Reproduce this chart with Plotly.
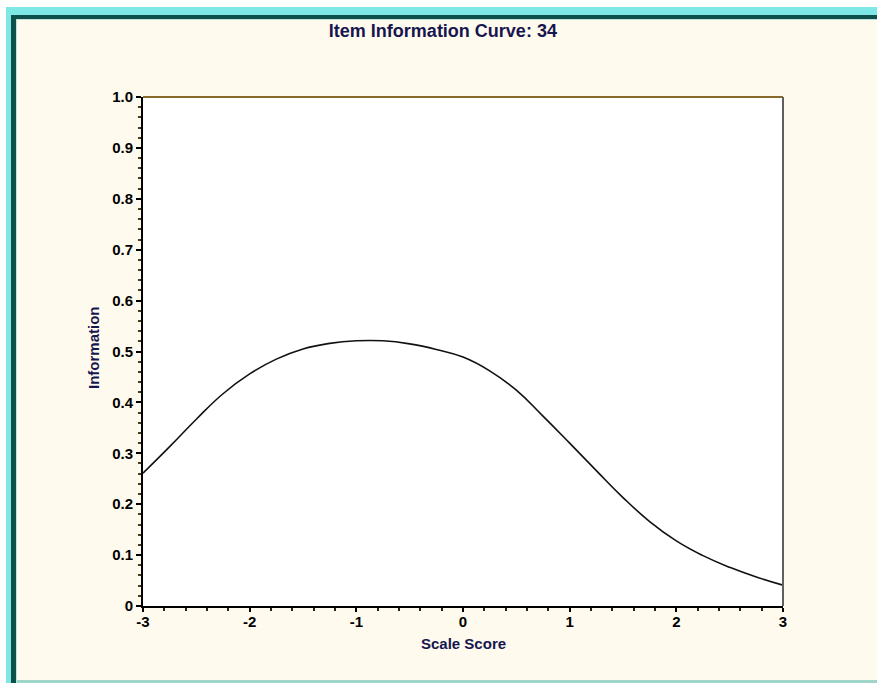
import plotly.graph_objects as go

# Data
scale_score = [-3.0, -2.75, -2.5, -2.25, -2.0, -1.75, -1.5, -1.25, -1.0, -0.75, -0.5, -0.25,
               0.0, 0.25, 0.5, 0.75, 1.0, 1.25, 1.5, 1.75, 2.0, 2.25, 2.5, 2.75, 3.0]
information = [0.261, 0.313, 0.367, 0.417, 0.456, 0.485, 0.505, 0.516, 0.521, 0.521, 0.515, 0.504,
               0.489, 0.462, 0.424, 0.373, 0.320, 0.266, 0.213, 0.166, 0.128, 0.099, 0.076, 0.057, 0.041]
y_tick_vals = [0, 0.1, 0.2, 0.3, 0.4, 0.5, 0.6, 0.7, 0.8, 0.9, 1.0]
y_tick_text = ["0", "0.1", "0.2", "0.3", "0.4", "0.5", "0.6", "0.7", "0.8", "0.9", "1.0"]
x_tick_vals = [-3, -2, -1, 0, 1, 2, 3]
x_tick_text = ["-3", "-2", "-1", "0", "1", "2", "3"]

W, H = 877, 683
L, R, T, B = 143, 783, 97, 606

def px(xp):
    return (xp - L) / (R - L)

def py(yp):
    return (B - yp) / (B - T)

fig = go.Figure()
fig.add_trace(go.Scatter(x=scale_score, y=information, mode="lines",
                         line=dict(color="#111111", width=1.6, shape="spline", smoothing=1.3),
                         hoverinfo="skip", showlegend=False))

navy = "#16164f"
font_family = "Liberation Sans, Arial, sans-serif"

shapes = []
def rect(x0, y0, x1, y1, color):
    shapes.append(dict(type="rect", xref="paper", yref="paper", layer="below",
                       x0=px(x0), x1=px(x1), y0=py(y1), y1=py(y0),
                       fillcolor=color, line=dict(width=0)))

rect(0, 0, W, 7, "#ffffff")
rect(0, 0, 6, H, "#ffffff")
rect(6, 7, W, 15, "#7fe8e6")
rect(6, 7, 11, H, "#7fe8e6")
rect(11, 15, W, 19, "#0f4f4a")
rect(11, 15, 16, H, "#0f4f4a")
rect(16, 19, W, 20, "#bfe3dc")
rect(16, 19, 17, H, "#bfe3dc")
rect(17, 680, W, H, "#9fd6cc")

shapes.append(dict(type="line", xref="paper", yref="paper", x0=0, x1=1, y0=1, y1=1,
                   line=dict(color="#8a6a2a", width=2)))
shapes.append(dict(type="line", xref="paper", yref="paper", x0=1, x1=1, y0=0, y1=1,
                   line=dict(color="#606060", width=2)))

fig.update_layout(
    width=W, height=H,
    margin=dict(l=L, r=W - R, t=T, b=H - B, pad=0),
    paper_bgcolor="#fffaee",
    plot_bgcolor="#ffffff",
    shapes=shapes,
    title=dict(text="Item Information Curve: 34", x=0.505, xanchor="center",
               y=1 - 31 / H, yanchor="middle",
               font=dict(family=font_family, size=18, color=navy, weight="bold")),
    annotations=[
        dict(text="Scale Score", xref="paper", yref="paper", x=0.5, y=py(643),
             xanchor="center", yanchor="middle", showarrow=False,
             font=dict(family=font_family, size=15, color=navy, weight="bold")),
        dict(text="Information", xref="paper", yref="paper", x=px(93), y=py(348),
             xanchor="center", yanchor="middle", showarrow=False, textangle=-90,
             font=dict(family=font_family, size=15, color=navy, weight="bold")),
    ],
)

fig.update_xaxes(range=[-3, 3], tickvals=x_tick_vals, ticktext=x_tick_text,
                 showgrid=False, zeroline=False, showline=True, linecolor="#000000", linewidth=2,
                 ticks="outside", ticklen=4, tickwidth=1.5, tickcolor="#000000",
                 ticklabelstandoff=-3,
                 tickfont=dict(family=font_family, size=15, color="#000000", weight="bold"),
                 minor=dict(ticks="outside", dtick=0.2, ticklen=3, tickwidth=1.5, tickcolor="#222222", showgrid=False),
                 fixedrange=True)
fig.update_yaxes(range=[0, 1], tickvals=y_tick_vals, ticktext=y_tick_text,
                 showgrid=False, zeroline=False, showline=True, linecolor="#000000", linewidth=2,
                 ticks="outside", ticklen=5, tickwidth=1.5, tickcolor="#000000",
                 tickfont=dict(family=font_family, size=15, color="#000000", weight="bold"),
                 minor=dict(ticks="outside", dtick=0.02, ticklen=3, tickwidth=1.5, tickcolor="#4a3a1a", showgrid=False),
                 fixedrange=True)

fig.write_html("out.html")
